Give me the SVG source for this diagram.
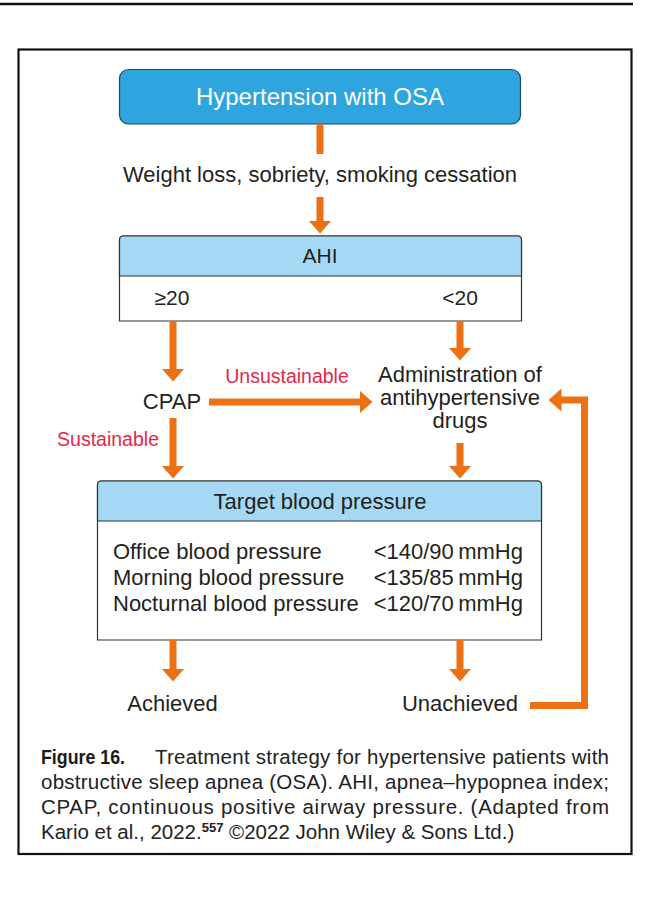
<svg xmlns="http://www.w3.org/2000/svg" width="658" height="917" viewBox="0 0 658 917">
<style>
  text { font-family: "Liberation Sans", Arial, sans-serif; fill: #231f20; }
  .t22 { font-size: 22px; }
  .red { font-size: 19.5px; fill: #e2284b; }
  .cap { font-size: 20.5px; fill: #222; }
  .conn { stroke: #ec7014; stroke-width: 7; fill: none; }
  .box { stroke: #333; stroke-width: 1.2; }
</style>
<defs>
  <marker id="ah" viewBox="0 0 13 23" markerWidth="13" markerHeight="23" markerUnits="userSpaceOnUse" refX="0.5" refY="11.5" orient="auto">
    <path d="M0,0 L13,11.5 L0,23 Z" fill="#ec7014"/>
  </marker>
</defs>
<rect width="658" height="917" fill="#ffffff"/>
<line x1="0" y1="4" x2="633" y2="4" stroke="#111" stroke-width="2.5"/>
<rect x="18.5" y="49.5" width="613" height="804.5" fill="none" stroke="#111" stroke-width="2.2"/>

<g id="start">
  <rect x="119.5" y="69.5" width="401" height="54.5" rx="9" fill="#2ea5de" stroke="#1d4a66" stroke-width="1.2"/>
  <text x="320" y="105" text-anchor="middle" style="font-size:24px;fill:#ffffff">Hypertension with OSA</text>
</g>
<g id="lifestyle">
  <text class="t22" x="320" y="182" text-anchor="middle">Weight loss, sobriety, smoking cessation</text>
</g>
<g id="ahi">
  <path class="box" d="M119.5,321 V240 Q119.5,236 123.5,236 H517.5 Q521.5,236 521.5,240 V321 Z" fill="#ffffff"/>
  <path class="box" d="M119.5,276 V240 Q119.5,236 123.5,236 H517.5 Q521.5,236 521.5,240 V276 Z" fill="#a5d8f4"/>
  <text x="320" y="263" text-anchor="middle" style="font-size:21px">AHI</text>
  <text x="172" y="305" text-anchor="middle" style="font-size:21px">≥20</text>
  <text x="460" y="305" text-anchor="middle" style="font-size:21px">&lt;20</text>
</g>
<g id="cpap">
  <text class="t22" x="172" y="409" text-anchor="middle">CPAP</text>
</g>
<g id="drugs">
  <text class="t22" x="460" y="382" text-anchor="middle">Administration of</text>
  <text class="t22" x="460" y="405" text-anchor="middle">antihypertensive</text>
  <text class="t22" x="460" y="428" text-anchor="middle">drugs</text>
</g>
<g id="target">
  <path class="box" d="M97.5,640 V485 Q97.5,481 101.5,481 H537.5 Q541.5,481 541.5,485 V640 Z" fill="#ffffff"/>
  <path class="box" d="M97.5,521 V485 Q97.5,481 101.5,481 H537.5 Q541.5,481 541.5,485 V521 Z" fill="#a5d8f4"/>
  <text class="t22" x="320" y="509" text-anchor="middle">Target blood pressure</text>
  <text class="t22" x="113" y="559">Office blood pressure</text>
  <text class="t22" x="113" y="585">Morning blood pressure</text>
  <text class="t22" x="113" y="611">Nocturnal blood pressure</text>
  <text class="t22" x="523" y="559" text-anchor="end">&lt;140/90&#8201;mmHg</text>
  <text class="t22" x="523" y="585" text-anchor="end">&lt;135/85&#8201;mmHg</text>
  <text class="t22" x="523" y="611" text-anchor="end">&lt;120/70&#8201;mmHg</text>
</g>
<g id="achieved">
  <text class="t22" x="172.5" y="711" text-anchor="middle">Achieved</text>
</g>
<g id="unachieved">
  <text class="t22" x="460" y="711" text-anchor="middle">Unachieved</text>
</g>

<g id="connectors">
  <line class="conn" x1="320" y1="124" x2="320" y2="154"/>
  <line class="conn" x1="320" y1="197" x2="320" y2="221" marker-end="url(#ah)"/>
  <line class="conn" x1="173" y1="321" x2="173" y2="369" marker-end="url(#ah)"/>
  <line class="conn" x1="460" y1="321" x2="460" y2="348" marker-end="url(#ah)"/>
  <line class="conn" x1="209" y1="402" x2="360" y2="402" marker-end="url(#ah)"/>
  <line class="conn" x1="173" y1="418" x2="173" y2="466" marker-end="url(#ah)"/>
  <line class="conn" x1="460" y1="443" x2="460" y2="466" marker-end="url(#ah)"/>
  <line class="conn" x1="173" y1="640" x2="173" y2="669" marker-end="url(#ah)"/>
  <line class="conn" x1="460" y1="640" x2="460" y2="669" marker-end="url(#ah)"/>
  <path class="conn" d="M530,705.5 H584.5 V400 H561" stroke-linejoin="miter" marker-end="url(#ah)"/>
  <text class="red" x="287" y="383" text-anchor="middle">Unsustainable</text>
  <text class="red" x="159" y="446" text-anchor="end">Sustainable</text>
</g>

<g id="caption">
  <text x="41" y="764" textLength="84" lengthAdjust="spacingAndGlyphs" style="font-family:'Liberation Sans Narrow','Liberation Sans',sans-serif;font-weight:bold;font-size:21px;fill:#1a1a1a">Figure 16.</text>
  <text class="cap" x="155" y="764" textLength="454" lengthAdjust="spacing">Treatment strategy for hypertensive patients with</text>
  <text class="cap" x="41" y="789" textLength="568" lengthAdjust="spacing">obstructive sleep apnea (OSA). AHI, apnea–hypopnea index;</text>
  <text class="cap" x="41" y="814" textLength="568" lengthAdjust="spacing">CPAP, continuous positive airway pressure. (Adapted from</text>
  <text class="cap" x="41" y="839">Kario et al., 2022.<tspan dy="-7" style="font-size:13px;font-weight:bold">557</tspan><tspan dy="7"> ©2022 John Wiley &amp; Sons Ltd.)</tspan></text>
</g>
</svg>
